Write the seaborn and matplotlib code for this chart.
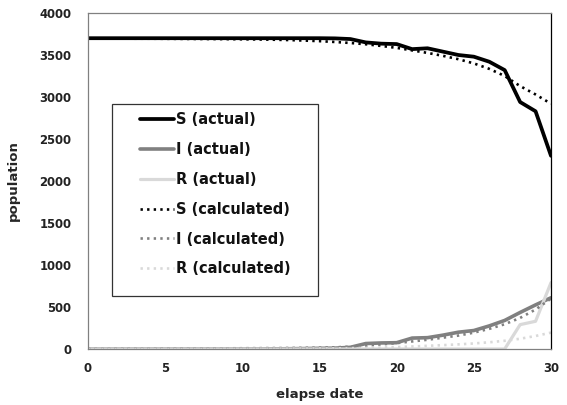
import matplotlib
matplotlib.use("Agg")
import matplotlib.pyplot as plt
from matplotlib.patches import Rectangle
import seaborn as sns
import pandas as pd

days = list(range(31))
S_actual = [3700, 3700, 3700, 3700, 3700, 3700, 3700, 3700, 3700, 3700, 3700,
            3700, 3700, 3700, 3700, 3700, 3698, 3690, 3650, 3635, 3630,
            3570, 3580, 3540, 3500, 3480, 3420, 3320, 2940, 2830, 2300]
I_actual = [0, 0, 0, 0, 0, 0, 0, 0, 0, 0, 0, 0, 2, 3, 5, 8, 10, 20, 65, 72, 75,
            130, 135, 165, 200, 220, 275, 340, 435, 525, 610]
R_actual = [0, 0, 0, 0, 0, 0, 0, 0, 0, 0, 0, 0, 0, 0, 0, 0, 0, 0, 0, 0, 0,
            0, 0, 0, 0, 0, 0, 0, 290, 330, 790]
S_calc = [3695, 3695, 3695, 3694, 3694, 3693, 3692, 3691, 3690, 3689, 3687,
          3685, 3682, 3678, 3672, 3665, 3655, 3643, 3628, 3608, 3585,
          3555, 3525, 3490, 3450, 3400, 3335, 3250, 3130, 3030, 2920]
I_calc = [2, 2, 3, 3, 4, 5, 5, 6, 7, 8, 9, 10, 11, 12, 14, 16, 20, 28, 40, 55, 70,
          90, 110, 135, 160, 195, 240, 295, 370, 470, 600]
R_calc = [0, 0, 0, 0, 1, 1, 1, 2, 2, 3, 3, 4, 4, 5, 6, 7, 8, 10, 13, 17, 22,
          30, 38, 46, 55, 66, 80, 98, 122, 155, 195]

series_names = ["S (actual)", "I (actual)", "R (actual)",
                "S (calculated)", "I (calculated)", "R (calculated)"]
series_vals = [S_actual, I_actual, R_actual, S_calc, I_calc, R_calc]
x_ticks = [0, 5, 10, 15, 20, 25, 30]
y_ticks = [0, 500, 1000, 1500, 2000, 2500, 3000, 3500, 4000]

sns.set_style("white")
plt.rcParams['font.family'] = ['DejaVu Sans']

styles = {
    "S (actual)": dict(color="#000000", lw=2.7, ls="-"),
    "I (actual)": dict(color="#808080", lw=2.6, ls="-"),
    "R (actual)": dict(color="#d9d9d9", lw=2.3, ls="-"),
    "S (calculated)": dict(color="#000000", lw=1.9, ls=(0, (0.9, 1.6))),
    "I (calculated)": dict(color="#808080", lw=1.9, ls=(0, (0.9, 1.6))),
    "R (calculated)": dict(color="#d9d9d9", lw=1.9, ls=(0, (0.9, 1.6))),
}

fig = plt.figure(figsize=(5.67, 4.05), dpi=100)
ax = fig.add_axes([88/567, 1-349/405, (551-88)/567, (349-13)/405])

for name, vals in zip(series_names, series_vals):
    df = pd.DataFrame({"day": days, "pop": vals})
    st = styles[name]
    sns.lineplot(data=df, x="day", y="pop", ax=ax, color=st["color"],
                 linewidth=st["lw"], linestyle=st["ls"], label=name,
                 solid_joinstyle="round")

ax.set_xlim(0, 30)
ax.set_ylim(0, 4000)
ax.set_xticks(x_ticks)
ax.set_yticks(y_ticks)
ax.tick_params(axis="both", length=0, labelsize=8.4)
ax.tick_params(axis="y", pad=12)
ax.tick_params(axis="x", pad=9)
for lab in ax.get_xticklabels() + ax.get_yticklabels():
    lab.set_fontweight("bold")
    lab.set_color("#222222")

ax.set_xlabel("elapse date", fontsize=9.5, fontweight="bold", labelpad=10)
ax.set_ylabel("population", fontsize=9.5, fontweight="bold")
ax.yaxis.set_label_coords((20-88)/463, 0.5)

for side in ["left", "top", "bottom"]:
    ax.spines[side].set_color("#808080")
    ax.spines[side].set_linewidth(0.9)
ax.spines["right"].set_color("#000000")
ax.spines["right"].set_linewidth(0.9)

leg = ax.legend(loc="upper left", bbox_to_anchor=(140/567, 1-112/405),
                bbox_transform=fig.transFigure, frameon=False, borderpad=0,
                borderaxespad=0, handlelength=2.3, handletextpad=0.15,
                labelspacing=1.02, prop=dict(size=10.5, weight="bold"))
for t in leg.get_texts():
    t.set_color("#111111")

fig.patches.append(Rectangle((112/567, 1-296/405), (318-112)/567, (296-104)/405,
                             transform=fig.transFigure, fill=False,
                             edgecolor="#333333", linewidth=0.9, zorder=5))

fig.savefig("out.png", dpi=100)
